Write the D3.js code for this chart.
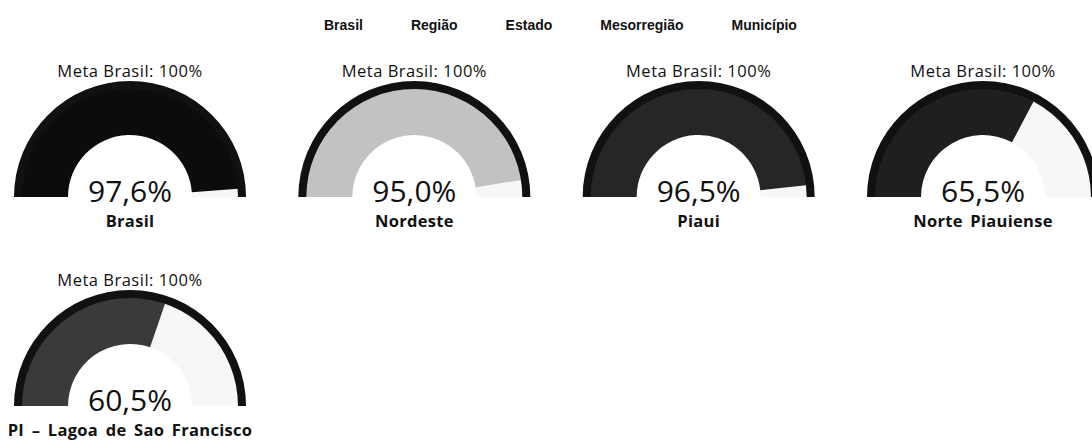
<!DOCTYPE html>
<html>
<head>
<meta charset="utf-8">
<script src="https://cdn.jsdelivr.net/npm/d3@7"></script>
<style>
  body { margin: 0; background: #fff; }
  svg { display: block; }
</style>
</head>
<body>
<div id="viz"></div>
<script>
// gauges: indicador por nivel territorial vs meta Brasil

const levels = ["Brasil", "Região", "Estado", "Mesorregião", "Município"];
const places = ["Brasil", "Nordeste", "Piaui", "Norte Piauiense", "PI – Lagoa de Sao Francisco"];
const values = [97.6, 95.0, 96.5, 65.5, 60.5];
const metaValue = 100;
const metaLabel = "Meta Brasil: ";
const colors = ["#0c0c0c", "#c2c2c2", "#262626", "#1f1f1f", "#3a3a3a"];

function drawChart() {
    const dimensions = {
        width: 1092,
        height: 441,
        outer: 116,
        inner: 62,
        band: 8
    };

    const br = d3.formatLocale({decimal: ",", thousands: ".", grouping: [3], currency: ["R$", ""]});
    const pct = v => br.format(".1f")(v) + "%";

    const viz = d3.select('#viz').append('svg')
        .attr('width', dimensions.width)
        .attr('height', dimensions.height);

    // legend
    const legend = viz.append('g')
        .attr('transform', 'translate(324, 30)');
    let lx = 0;
    levels.forEach(l => {
        const t = legend.append('text')
            .attr('x', lx)
            .attr('y', 0)
            .style('font-family', 'Liberation Sans, Arial, sans-serif')
            .style('font-weight', 'bold')
            .style('font-size', '14px')
            .style('fill', '#111')
            .text(l);
        lx += t.node().getComputedTextLength() + 48;
    });

    // scales
    const xScale = d3.scaleLinear().domain([0, 3]).range([130, 983]);
    const yScale = d3.scaleLinear().domain([0, 1]).range([197, 406]);
    const angle = d3.scaleLinear().domain([0, metaValue]).range([-Math.PI / 2, Math.PI / 2]);

    const fillArc = d3.arc()
        .innerRadius(dimensions.inner)
        .outerRadius(dimensions.outer - 1);
    const bandArc = d3.arc()
        .innerRadius(dimensions.outer - dimensions.band)
        .outerRadius(dimensions.outer)
        .startAngle(angle(0))
        .endAngle(angle(metaValue));

    const gauges = viz.selectAll('g.gauge')
        .data(values.map((v, i) => ({value: v, place: places[i], color: colors[i], i: i})))
        .join('g')
        .attr('class', 'gauge')
        .attr('transform', d => `translate(${xScale(d.i % 4)}, ${yScale(Math.floor(d.i / 4))})`);

    // empty part
    gauges.append('path')
        .attr('fill', '#f7f7f7')
        .attr('d', fillArc({startAngle: angle(0), endAngle: angle(metaValue)}));

    // value part
    gauges.append('path')
        .attr('fill', d => d.color)
        .attr('d', d => fillArc({startAngle: angle(0), endAngle: angle(d.value)}));

    // meta band
    gauges.append('path')
        .attr('fill', '#111')
        .attr('d', bandArc());

    gauges.append('text')
        .attr('text-anchor', 'middle')
        .attr('y', -120)
        .style('font-family', 'Open Sans, sans-serif')
        .style('font-size', '16.5px')
        .style('letter-spacing', '0.5px')
        .style('fill', '#111')
        .text(metaLabel + metaValue + "%");

    gauges.append('text')
        .attr('text-anchor', 'middle')
        .attr('y', 5)
        .style('font-family', 'Open Sans, sans-serif')
        .style('font-size', '30px')
        .style('fill', '#111')
        .text(d => pct(d.value));

    gauges.append('text')
        .attr('text-anchor', 'middle')
        .attr('y', 30)
        .style('font-family', 'Open Sans, sans-serif')
        .style('font-weight', 'bold')
        .style('font-size', '16.5px')
        .style('letter-spacing', '0.3px')
        .style('word-spacing', '3px')
        .style('fill', '#111')
        .text(d => d.place);
}

drawChart();
</script>
</body>
</html>
